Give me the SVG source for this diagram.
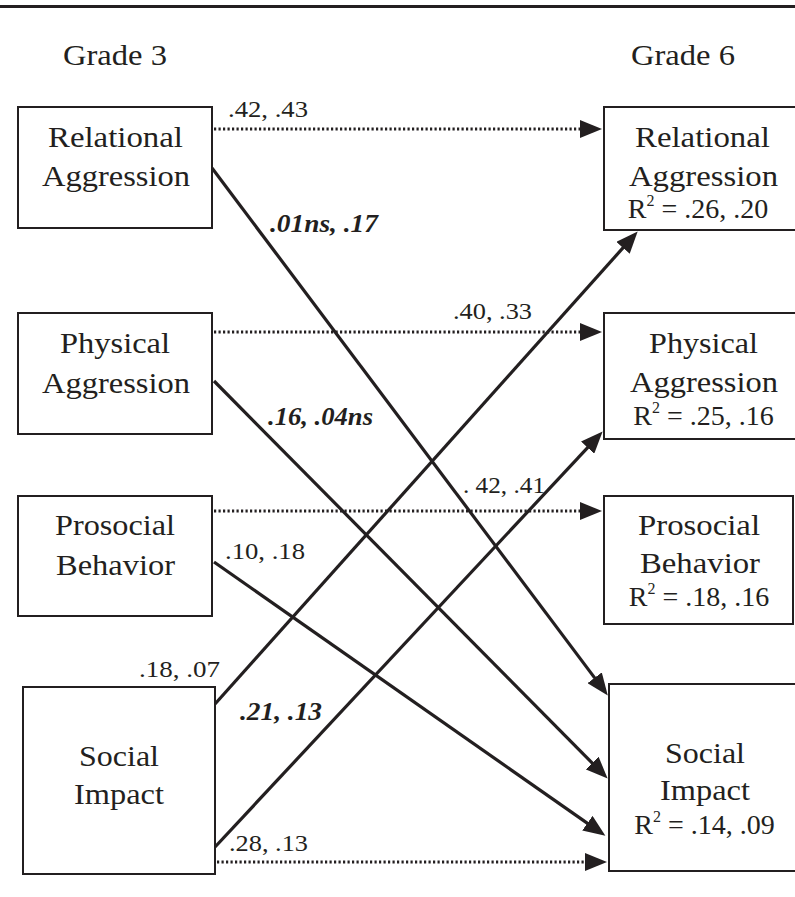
<svg xmlns="http://www.w3.org/2000/svg" width="795" height="897" viewBox="0 0 795 897">
<defs>
<marker id="ah" markerUnits="userSpaceOnUse" markerWidth="22" markerHeight="18" refX="12" refY="9" orient="auto" viewBox="0 0 22 18">
<path d="M0,0 L22,9 L0,18 z" fill="#231f20"/>
</marker>
<style>
.box{fill:#fff;stroke:#231f20;stroke-width:2}
.t{font-family:"Liberation Serif","Times New Roman",serif;font-size:30px;fill:#231f20;text-anchor:middle}
.r2{font-family:"Liberation Serif","Times New Roman",serif;font-size:28px;fill:#231f20;text-anchor:middle}
.sup{font-size:16px}
.lb{font-family:"Liberation Serif","Times New Roman",serif;font-size:24px;fill:#231f20}
.bi{font-family:"Liberation Serif","Times New Roman",serif;font-size:25px;font-weight:bold;font-style:italic;fill:#231f20}
.dot{stroke:#231f20;stroke-width:3;stroke-dasharray:2.2 2.3;fill:none;marker-end:url(#ah)}
.sol{stroke:#231f20;stroke-width:3.2;fill:none;marker-end:url(#ah)}
</style>
</defs>
<rect width="795" height="897" fill="#fff"/>
<line x1="0" y1="6.5" x2="795" y2="6.5" stroke="#231f20" stroke-width="3"/>
<text class="t" x="115" y="65" textLength="104" lengthAdjust="spacingAndGlyphs">Grade 3</text>
<text class="t" x="683" y="65" textLength="104" lengthAdjust="spacingAndGlyphs">Grade 6</text>

<g id="connectors">
<line class="dot" x1="214" y1="129" x2="592" y2="129"/>
<line class="dot" x1="214" y1="332" x2="592" y2="332"/>
<line class="dot" x1="214" y1="511" x2="592" y2="511"/>
<line class="dot" x1="217" y1="862" x2="597" y2="862"/>
<line class="sol" x1="212" y1="168" x2="601.8" y2="687.4"/>
<line class="sol" x1="214" y1="381" x2="600.6" y2="771.5"/>
<line class="sol" x1="214" y1="562" x2="597.2" y2="830.1"/>
<line class="sol" x1="215" y1="704" x2="631" y2="238.9"/>
<line class="sol" x1="215" y1="847" x2="595.8" y2="438.8"/>
<text class="lb" x="228" y="117" textLength="80" lengthAdjust="spacingAndGlyphs">.42, .43</text>
<text class="bi" x="270" y="232" textLength="108" lengthAdjust="spacingAndGlyphs">.01ns, .17</text>
<text class="lb" x="453" y="319" textLength="79" lengthAdjust="spacingAndGlyphs">.40, .33</text>
<text class="bi" x="268" y="425" textLength="105" lengthAdjust="spacingAndGlyphs">.16, .04ns</text>
<text class="lb" x="463" y="493" textLength="82" lengthAdjust="spacingAndGlyphs">. 42, .41</text>
<text class="lb" x="225" y="559" textLength="80" lengthAdjust="spacingAndGlyphs">.10, .18</text>
<text class="lb" x="139" y="677" textLength="81" lengthAdjust="spacingAndGlyphs">.18, .07</text>
<text class="bi" x="240" y="720" textLength="82" lengthAdjust="spacingAndGlyphs">.21, .13</text>
<text class="lb" x="229" y="851" textLength="79" lengthAdjust="spacingAndGlyphs">.28, .13</text>
</g>

<g id="g3-relational">
<rect class="box" x="18" y="107" width="194" height="121"/>
<text class="t" x="115.5" y="147" textLength="135" lengthAdjust="spacingAndGlyphs">Relational</text>
<text class="t" x="116" y="186" textLength="148" lengthAdjust="spacingAndGlyphs">Aggression</text>
</g>
<g id="g3-physical">
<rect class="box" x="18" y="313" width="194" height="121"/>
<text class="t" x="115" y="353" textLength="110" lengthAdjust="spacingAndGlyphs">Physical</text>
<text class="t" x="116" y="393" textLength="148" lengthAdjust="spacingAndGlyphs">Aggression</text>
</g>
<g id="g3-prosocial">
<rect class="box" x="18" y="496" width="194" height="120"/>
<text class="t" x="115" y="535" textLength="120" lengthAdjust="spacingAndGlyphs">Prosocial</text>
<text class="t" x="115.5" y="575" textLength="119" lengthAdjust="spacingAndGlyphs">Behavior</text>
</g>
<g id="g3-social">
<rect class="box" x="23" y="687" width="192" height="187"/>
<text class="t" x="119" y="766" textLength="80" lengthAdjust="spacingAndGlyphs">Social</text>
<text class="t" x="119" y="804" textLength="90" lengthAdjust="spacingAndGlyphs">Impact</text>
</g>

<g id="g6-relational">
<rect class="box" x="604" y="107" width="200" height="123"/>
<text class="t" x="702.5" y="147" textLength="135" lengthAdjust="spacingAndGlyphs">Relational</text>
<text class="t" x="703.5" y="186" textLength="149" lengthAdjust="spacingAndGlyphs">Aggression</text>
<text class="r2" x="698" y="218">R<tspan class="sup" dy="-12">2</tspan><tspan dy="12"> = .26, .20</tspan></text>
</g>
<g id="g6-physical">
<rect class="box" x="604" y="313" width="200" height="126"/>
<text class="t" x="703.5" y="353" textLength="109" lengthAdjust="spacingAndGlyphs">Physical</text>
<text class="t" x="704" y="392" textLength="148" lengthAdjust="spacingAndGlyphs">Aggression</text>
<text class="r2" x="703.5" y="425">R<tspan class="sup" dy="-12">2</tspan><tspan dy="12"> = .25, .16</tspan></text>
</g>
<g id="g6-prosocial">
<rect class="box" x="604" y="496" width="189" height="128"/>
<text class="t" x="699" y="535" textLength="122" lengthAdjust="spacingAndGlyphs">Prosocial</text>
<text class="t" x="700" y="573" textLength="120" lengthAdjust="spacingAndGlyphs">Behavior</text>
<text class="r2" x="699" y="606">R<tspan class="sup" dy="-12">2</tspan><tspan dy="12"> = .18, .16</tspan></text>
</g>
<g id="g6-social">
<rect class="box" x="609" y="684" width="200" height="187"/>
<text class="t" x="705" y="763" textLength="80" lengthAdjust="spacingAndGlyphs">Social</text>
<text class="t" x="705" y="800" textLength="90" lengthAdjust="spacingAndGlyphs">Impact</text>
<text class="r2" x="704.5" y="834">R<tspan class="sup" dy="-12">2</tspan><tspan dy="12"> = .14, .09</tspan></text>
</g>
</svg>
